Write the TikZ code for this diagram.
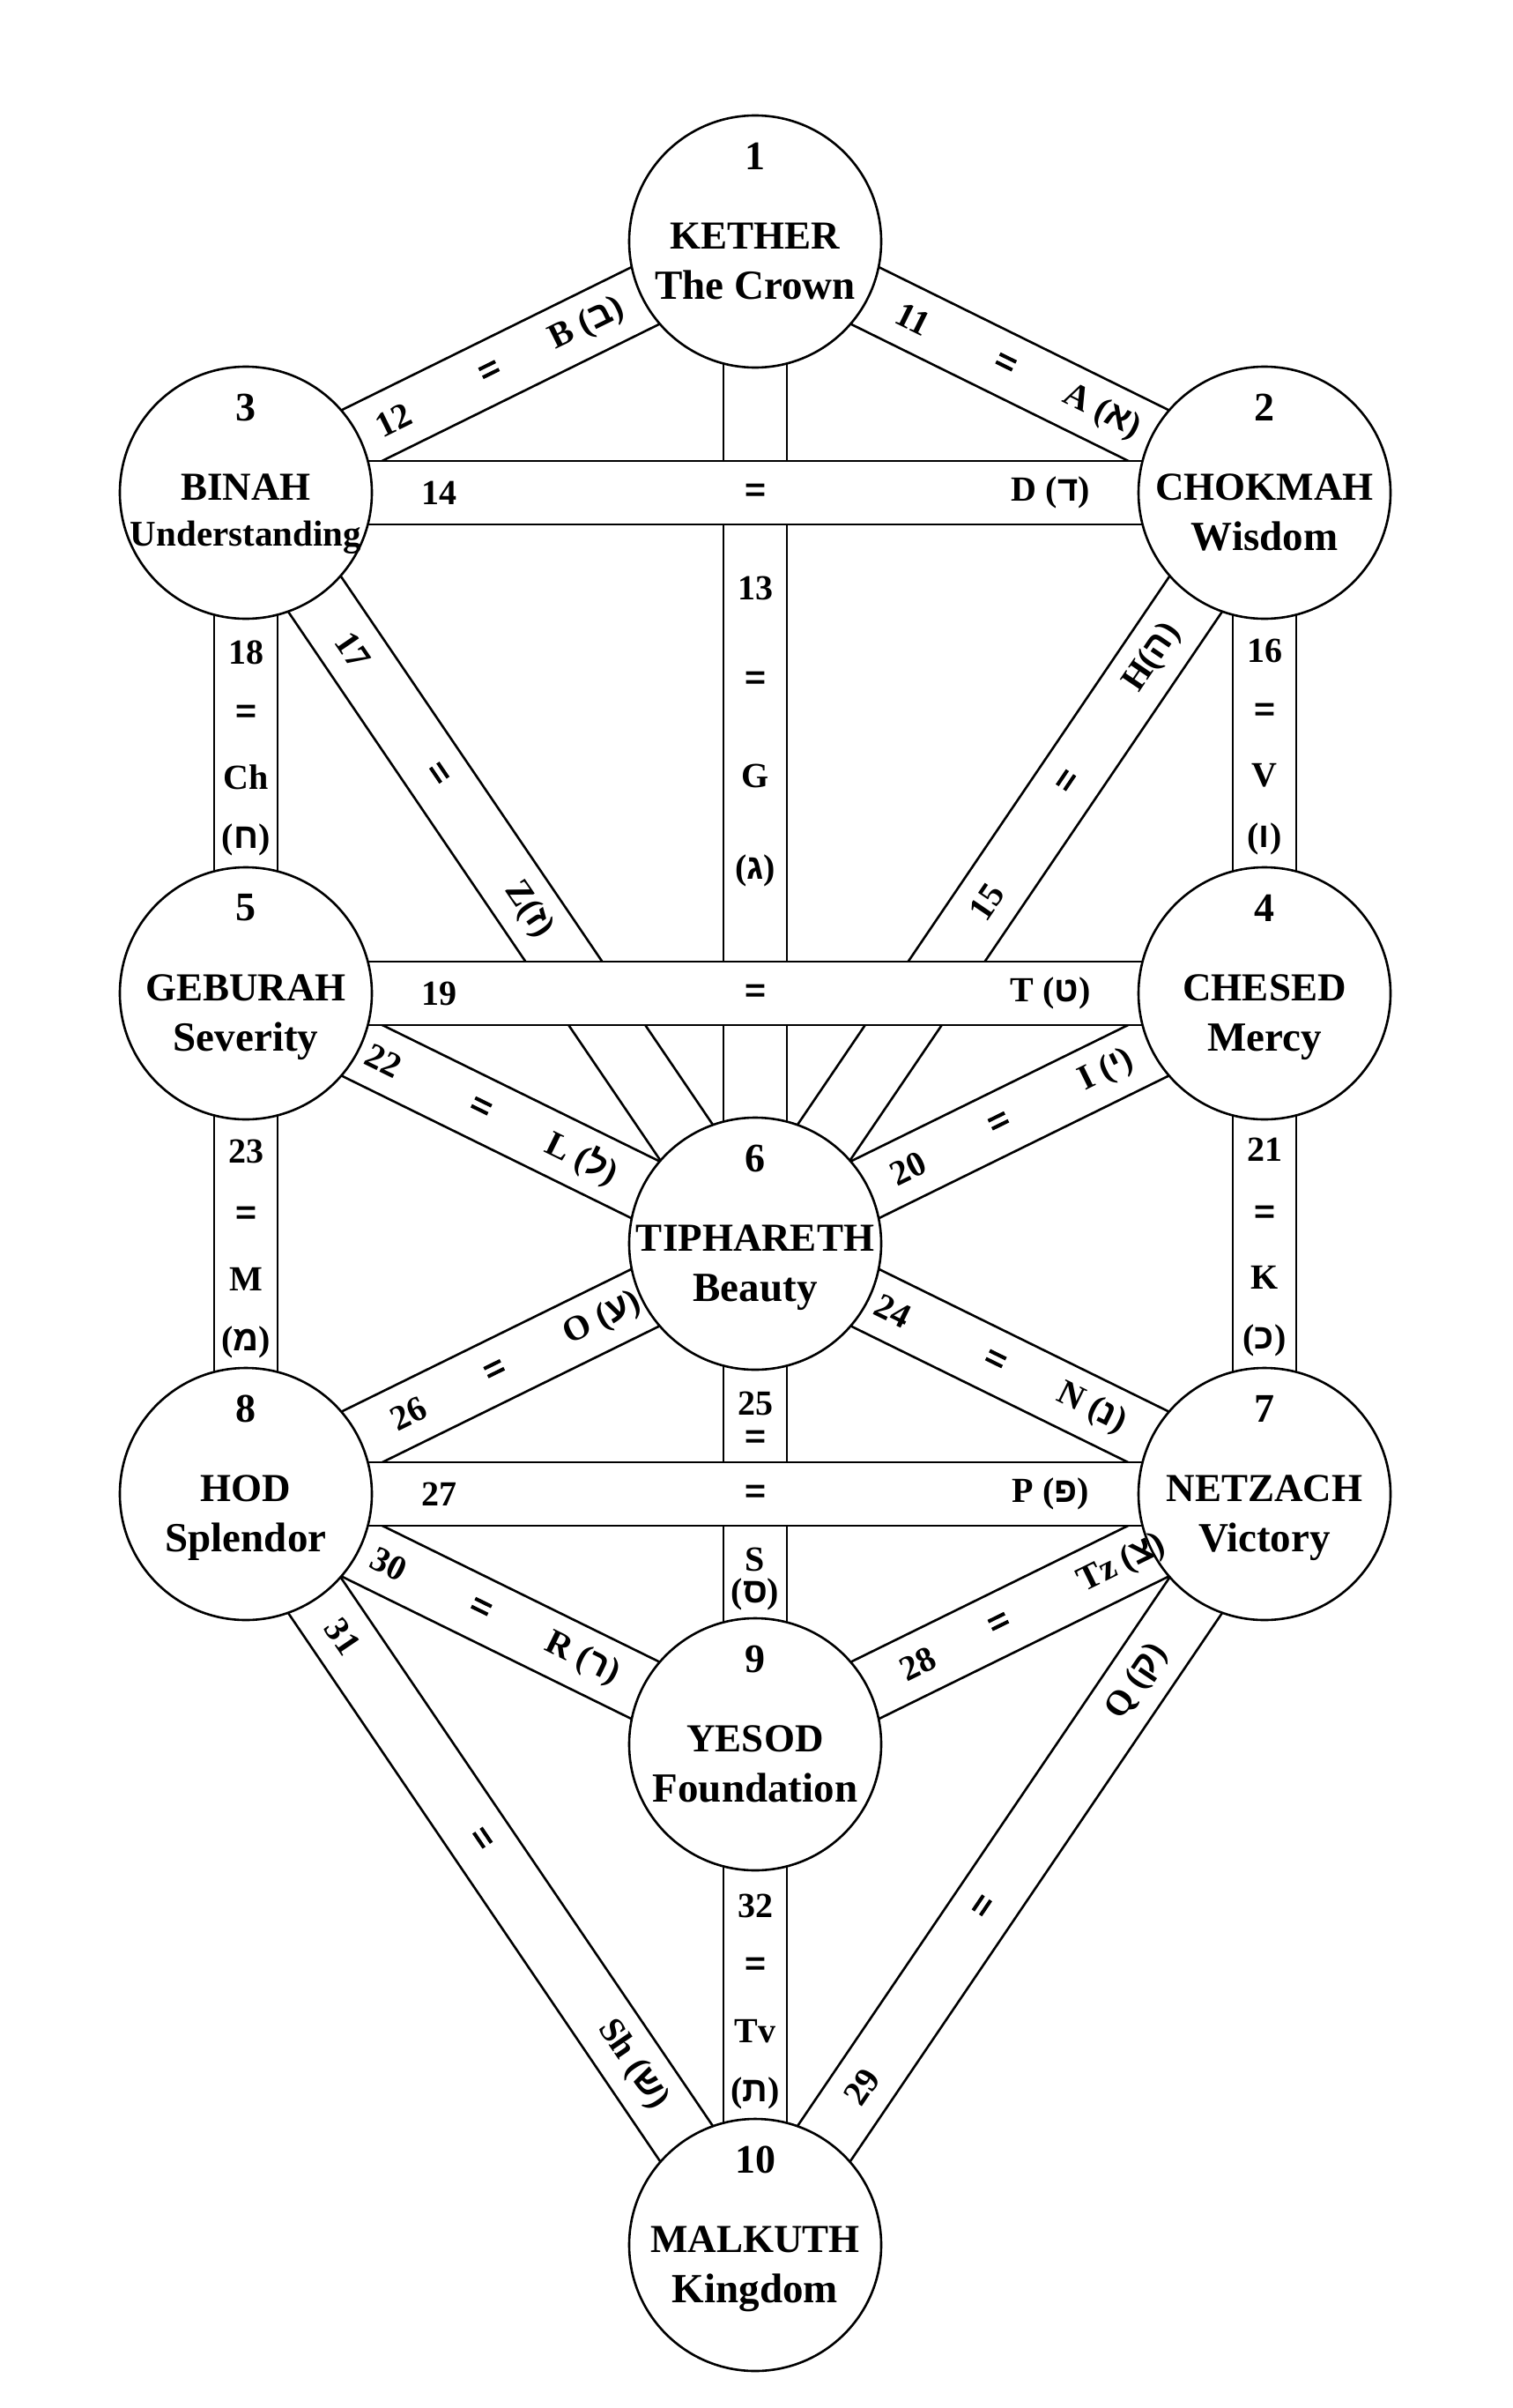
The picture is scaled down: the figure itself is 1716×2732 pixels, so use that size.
\documentclass[tikz,border=0pt]{standalone}
\usepackage{fontspec}
\setmainfont{Liberation Serif}
\newfontfamily\hebfont[Script=Hebrew]{Liberation Sans}
\newfontfamily\eqfont[FakeBold=3]{Liberation Sans}
\usetikzlibrary{calc}
\pgfdeclarelayer{low}
\pgfdeclarelayer{mid}
\pgfsetlayers{low,mid,main}
\newcommand\heb[1]{{\hebfont\bfseries #1}}
\newcommand\eqs{{\eqfont\mdseries =}}
\newcommand\sband[2]{%
  \fill[white] ($(#1)!36pt!90:(#2)$) -- ($(#2)!36pt!-90:(#1)$) -- ($(#2)!36pt!90:(#1)$) -- ($(#1)!36pt!-90:(#2)$) -- cycle;
  \draw[bandline] ($(#1)!36pt!90:(#2)$) -- ($(#2)!36pt!-90:(#1)$);
  \draw[bandline] ($(#1)!36pt!-90:(#2)$) -- ($(#2)!36pt!90:(#1)$);
}
\tikzset{
  sef/.style={circle, draw, line width=2.6pt, fill=white, minimum size=286pt, inner sep=0pt},
  bandline/.style={line width=2.6pt},
  lbl/.style={font=\fontsize{40}{44}\selectfont\bfseries, inner sep=0pt},
  num/.style={font=\fontsize{46}{50}\selectfont\bfseries, inner sep=0pt},
  nm/.style={font=\fontsize{45}{50}\selectfont\bfseries, inner sep=0pt, anchor=base},
  sub/.style={font=\fontsize{47}{50}\selectfont\bfseries, inner sep=0pt, anchor=base},
}
\begin{document}
\begin{tikzpicture}[x=1pt,y=-1pt]
\useasboundingbox (0,0) rectangle (1716,2732);
% sephiroth
\node[sef] (kether)  at (857,274)  {};
\node[sef] (chokmah) at (1435,559) {};
\node[sef] (binah)   at (279,559)  {};
\node[sef] (chesed)  at (1435,1127) {};
\node[sef] (geburah) at (279,1127) {};
\node[sef] (tiph)    at (857,1411) {};
\node[sef] (netzach) at (1435,1695) {};
\node[sef] (hod)     at (279,1695) {};
\node[sef] (yesod)   at (857,1979) {};
\node[sef] (malkuth) at (857,2547) {};
% bands
\begin{pgfonlayer}{low}
\fill[white] (0,0) rectangle (1716,2732);
\sband{kether}{chokmah}
\sband{binah}{kether}
\sband{kether}{tiph}
\sband{chokmah}{tiph}
\sband{chokmah}{chesed}
\sband{binah}{tiph}
\sband{binah}{geburah}
\sband{chesed}{tiph}
\sband{chesed}{netzach}
\sband{geburah}{tiph}
\sband{geburah}{hod}
\sband{tiph}{netzach}
\sband{tiph}{yesod}
\sband{hod}{tiph}
\sband{netzach}{yesod}
\sband{netzach}{malkuth}
\sband{hod}{yesod}
\sband{hod}{malkuth}
\sband{yesod}{malkuth}
\end{pgfonlayer}
\begin{pgfonlayer}{mid}
\sband{binah}{chokmah}
\sband{geburah}{chesed}
\sband{hod}{netzach}
\end{pgfonlayer}
% sephiroth texts
\node[num] (t1) at ($(kether)+(0,-97)$) {1};
\node[nm]  (k1) at ($(kether)+(0,8)$) {KETHER};
\node[sub] (s1) at ($(kether)+(0,65)$) {The Crown};
\node[num] (t2) at ($(chokmah)+(0,-97)$) {2};
\node[nm]  (k2) at ($(chokmah)+(0,8)$) {CHOKMAH};
\node[sub] (s2) at ($(chokmah)+(0,65)$) {Wisdom};
\node[num] (t3) at ($(binah)+(0,-97)$) {3};
\node[nm]  (k3) at ($(binah)+(0,8)$) {BINAH};
\node[sub, font=\fontsize{41}{44}\selectfont\bfseries] (s3) at ($(binah)+(0,60)$) {Understanding};
\node[num] (t4) at ($(chesed)+(0,-97)$) {4};
\node[nm]  (k4) at ($(chesed)+(0,8)$) {CHESED};
\node[sub] (s4) at ($(chesed)+(0,65)$) {Mercy};
\node[num] (t5) at ($(geburah)+(0,-97)$) {5};
\node[nm]  (k5) at ($(geburah)+(0,8)$) {GEBURAH};
\node[sub] (s5) at ($(geburah)+(0,65)$) {Severity};
\node[num] (t6) at ($(tiph)+(0,-97)$) {6};
\node[nm]  (k6) at ($(tiph)+(0,8)$) {TIPHARETH};
\node[sub] (s6) at ($(tiph)+(0,65)$) {Beauty};
\node[num] (t7) at ($(netzach)+(0,-97)$) {7};
\node[nm]  (k7) at ($(netzach)+(0,8)$) {NETZACH};
\node[sub] (s7) at ($(netzach)+(0,65)$) {Victory};
\node[num] (t8) at ($(hod)+(0,-97)$) {8};
\node[nm]  (k8) at ($(hod)+(0,8)$) {HOD};
\node[sub] (s8) at ($(hod)+(0,65)$) {Splendor};
\node[num] (t9) at ($(yesod)+(0,-97)$) {9};
\node[nm]  (k9) at ($(yesod)+(0,8)$) {YESOD};
\node[sub] (s9) at ($(yesod)+(0,65)$) {Foundation};
\node[num] (t10) at ($(malkuth)+(0,-97)$) {10};
\node[nm]  (k10) at ($(malkuth)+(0,8)$) {MALKUTH};
\node[sub] (s10) at ($(malkuth)+(0,65)$) {Kingdom};
% sloped path labels
\path (kether.center) -- (chokmah.center)
  node[lbl,sloped,pos=.31] (p11a) {11} node[lbl,sloped,pos=.49] (p11b) {\eqs} node[lbl,sloped,pos=.68] (p11c) {A (\heb{א})};
\path (binah.center) -- (kether.center)
  node[lbl,sloped,pos=.29] (p12a) {12} node[lbl,sloped,pos=.48] (p12b) {\eqs} node[lbl,sloped,pos=.67] (p12c) {B (\heb{ב})};
\path (binah.center) -- (chokmah.center)
  node[lbl,pos=.19] (p14a) {14} node[lbl,pos=.5] (p14b) {\eqs} node[lbl,pos=.79] (p14c) {D (\heb{ד})};
\path (chokmah.center) -- (tiph.center)
  node[lbl,sloped,pos=.22] (p15c) {H(\heb{ה})} node[lbl,sloped,pos=.385] (p15b) {\eqs} node[lbl,sloped,pos=.545] (p15a) {15};
\path (binah.center) -- (tiph.center)
  node[lbl,sloped,pos=.21] (p17a) {17} node[lbl,sloped,pos=.375] (p17b) {\eqs} node[lbl,sloped,pos=.555] (p17c) {Z(\heb{ז})};
\path (geburah.center) -- (chesed.center)
  node[lbl,pos=.19] (p19a) {19} node[lbl,pos=.5] (p19b) {\eqs} node[lbl,pos=.79] (p19c) {T (\heb{ט})};
\path (chesed.center) -- (tiph.center)
  node[lbl,sloped,pos=.31] (p20c) {I (\heb{י})} node[lbl,sloped,pos=.52] (p20b) {\eqs} node[lbl,sloped,pos=.70] (p20a) {20};
\path (geburah.center) -- (tiph.center)
  node[lbl,sloped,pos=.27] (p22a) {22} node[lbl,sloped,pos=.46] (p22b) {\eqs} node[lbl,sloped,pos=.66] (p22c) {L (\heb{ל})};
\path (tiph.center) -- (netzach.center)
  node[lbl,sloped,pos=.27] (p24a) {24} node[lbl,sloped,pos=.47] (p24b) {\eqs} node[lbl,sloped,pos=.66] (p24c) {N (\heb{נ})};
\path (hod.center) -- (tiph.center)
  node[lbl,sloped,pos=.32] (p26a) {26} node[lbl,sloped,pos=.49] (p26b) {\eqs} node[lbl,sloped,pos=.70] (p26c) {O (\heb{ע})};
\path (hod.center) -- (netzach.center)
  node[lbl,pos=.19] (p27a) {27} node[lbl,pos=.5] (p27b) {\eqs} node[lbl,pos=.79] (p27c) {P (\heb{פ})};
\path (netzach.center) -- (yesod.center)
  node[lbl,sloped,pos=.28] (p28c) {Tz (\heb{צ})} node[lbl,sloped,pos=.52] (p28b) {\eqs} node[lbl,sloped,pos=.68] (p28a) {28};
\path (netzach.center) -- (malkuth.center)
  node[lbl,sloped,pos=.25] (p29c) {Q (\heb{ק})} node[lbl,sloped,pos=.55] (p29b) {\eqs} node[lbl,sloped,pos=.79] (p29a) {29};
\path (hod.center) -- (yesod.center)
  node[lbl,sloped,pos=.28] (p30a) {30} node[lbl,sloped,pos=.46] (p30b) {\eqs} node[lbl,sloped,pos=.66] (p30c) {R (\heb{ר})};
\path (hod.center) -- (malkuth.center)
  node[lbl,sloped,pos=.19] (p31a) {31} node[lbl,sloped,pos=.46] (p31b) {\eqs} node[lbl,sloped,pos=.76] (p31c) {Sh (\heb{ש})};
% vertical path labels
\node[lbl] (p13a) at (857,667) {13};
\node[lbl] (p13b) at (857,772) {\eqs};
\node[lbl] (p13c) at (857,880) {G};
\node[lbl] (p13d) at (857,988) {(\heb{ג})};
\node[lbl] (p18a) at (279,740) {18};
\node[lbl] (p18b) at (279,810) {\eqs};
\node[lbl] (p18c) at (279,882) {Ch};
\node[lbl] (p18d) at (279,953) {(\heb{ח})};
\node[lbl] (p16a) at (1435,738) {16};
\node[lbl] (p16b) at (1435,808) {\eqs};
\node[lbl] (p16c) at (1435,880) {V};
\node[lbl] (p16d) at (1435,952) {(\heb{ו})};
\node[lbl] (p23a) at (279,1306) {23};
\node[lbl] (p23b) at (279,1379) {\eqs};
\node[lbl] (p23c) at (279,1451) {M};
\node[lbl] (p23d) at (279,1523) {(\heb{מ})};
\node[lbl] (p21a) at (1435,1304) {21};
\node[lbl] (p21b) at (1435,1378) {\eqs};
\node[lbl] (p21c) at (1435,1449) {K};
\node[lbl] (p21d) at (1435,1521) {(\heb{כ})};
\node[lbl] (p25a) at (857,1592) {25};
\node[lbl] (p25b) at (857,1633) {\eqs};
\node[lbl] (p25c) at (857,1769) {S};
\node[lbl] (p25d) at (857,1809) {(\heb{ס})};
\node[lbl] (p32a) at (857,2162) {32};
\node[lbl] (p32b) at (857,2231) {\eqs};
\node[lbl] (p32c) at (857,2305) {Tv};
\node[lbl] (p32d) at (857,2375) {(\heb{ת})};
\end{tikzpicture}
\end{document}
